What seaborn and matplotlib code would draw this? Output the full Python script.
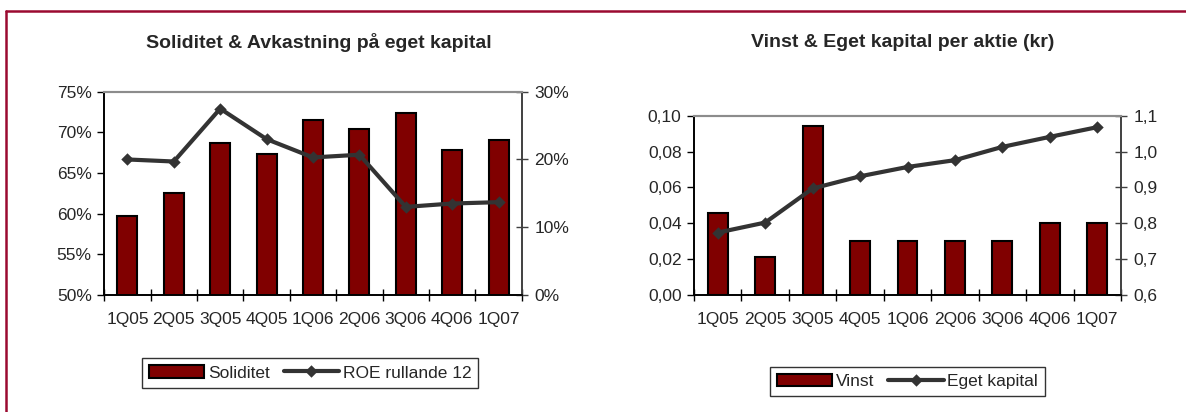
import numpy as np
import pandas as pd
import matplotlib
matplotlib.use("Agg")
import matplotlib.pyplot as plt
from matplotlib.lines import Line2D
from matplotlib.ticker import FuncFormatter, FixedLocator
import seaborn as sns

#data
quarters = ["1Q05", "2Q05", "3Q05", "4Q05", "1Q06", "2Q06", "3Q06", "4Q06", "1Q07"]
soliditet = [59.7, 62.6, 68.7, 67.4, 71.5, 70.4, 72.4, 67.8, 69.0]
roe = [20.0, 19.7, 27.5, 23.0, 20.3, 20.7, 13.0, 13.5, 13.7]
vinst = [0.046, 0.021, 0.094, 0.030, 0.030, 0.030, 0.030, 0.040, 0.040]
eget_kapital = [0.774, 0.802, 0.897, 0.931, 0.957, 0.976, 1.013, 1.041, 1.068]

sns.set_style("white")
plt.rcParams['font.family'] = ['Liberation Sans', 'DejaVu Sans']

bar_color = "#800000"
line_color = "#333333"
fs = 12.5

fig = plt.figure(figsize=(11.86, 4.12), dpi=100)


def combo(rect, bars, line, ylim1, ylim2, yt1, yt2, fmt1, fmt2, width):
    ax = fig.add_axes(rect)
    sns.barplot(x=quarters, y=bars, ax=ax, color=bar_color, saturation=1,
                edgecolor="black", linewidth=1.5, width=width)
    ax2 = ax.twinx()
    sns.pointplot(x=quarters, y=line, ax=ax2, color=line_color, markers="D",
                  linestyles="-", errorbar=None, linewidth=3, markersize=4)
    for a in (ax, ax2):
        a.set_xlim(-0.5, len(quarters) - 0.5)
        a.set_xlabel("")
        a.set_ylabel("")
    ax.set_ylim(*ylim1)
    ax2.set_ylim(*ylim2)
    ax.yaxis.set_major_locator(FixedLocator(yt1))
    ax2.yaxis.set_major_locator(FixedLocator(yt2))
    ax.yaxis.set_major_formatter(FuncFormatter(fmt1))
    ax2.yaxis.set_major_formatter(FuncFormatter(fmt2))

    #labels in the middle, crossing ticks between the quarters
    ax.set_xticks(range(len(quarters)))
    ax.set_xticklabels(quarters)
    ax.set_xticks(np.arange(-0.5, len(quarters)), minor=True)
    ax.tick_params(axis="x", which="major", length=0, pad=12, labelsize=fs)
    ax.tick_params(axis="x", which="minor", direction="inout", length=8, width=1, color="black", bottom=True)
    ax.tick_params(axis="y", direction="out", length=5, width=1, color="black", left=True, labelsize=fs, pad=4)
    ax2.tick_params(axis="y", direction="inout", length=8, width=1, color="#404040", right=True, labelsize=fs, pad=5)
    ax2.tick_params(axis="x", length=0)

    for a in (ax, ax2):
        a.spines["top"].set_color("#8c8c8c")
        a.spines["top"].set_linewidth(1.5)
        a.spines["left"].set_color("black")
        a.spines["bottom"].set_color("black")
        a.spines["left"].set_linewidth(1.2)
        a.spines["bottom"].set_linewidth(1.2)
        a.spines["right"].set_color("#404040")
        a.spines["right"].set_linewidth(1.2)

    handles = [ax.patches[0], ax2.lines[0]]
    return handles


pct = lambda v, p: f"{v:.0f}%"
h1 = combo([0.0879, 0.284, 0.352, 0.4934], soliditet, roe,
           (50, 75), (0, 30), [50, 55, 60, 65, 70, 75], [0, 10, 20, 30], pct, pct, 0.43)

h2 = combo([0.5852, 0.284, 0.360, 0.4352], vinst, eget_kapital,
           (0, 0.10), (0.6, 1.1), [0, 0.02, 0.04, 0.06, 0.08, 0.10], [0.6, 0.7, 0.8, 0.9, 1.0, 1.1],
           lambda v, p: f"{v:.2f}".replace(".", ","),
           lambda v, p: f"{v:.1f}".replace(".", ","), 0.42)

fig.text(0.269, 0.896, "Soliditet & Avkastning på eget kapital", ha="center", va="center",
         fontsize=14, fontweight="bold")
fig.text(0.761, 0.898, "Vinst & Eget kapital per aktie (kr)", ha="center", va="center",
         fontsize=14, fontweight="bold")

leg_kw = dict(ncol=2, frameon=True, fancybox=False, edgecolor="black", fontsize=fs,
              handlelength=3.2, handletextpad=0.2, columnspacing=0.8, borderpad=0.4,
              loc="center")
l1 = fig.legend(h1, ["Soliditet", "ROE rullande 12"], bbox_to_anchor=(0.2614, 0.0947), **leg_kw)
l2 = fig.legend(h2, ["Vinst", "Eget kapital"], bbox_to_anchor=(0.765, 0.074), **leg_kw)
for l in (l1, l2):
    l.get_frame().set_linewidth(1.0)

#dark red frame
frame_color = "#9b0a30"
fig.add_artist(Line2D([6 / 1186, 6 / 1186], [0, 1 - 11 / 412], color=frame_color, lw=1.8))
fig.add_artist(Line2D([6 / 1186, 1], [1 - 11 / 412, 1 - 11 / 412], color=frame_color, lw=1.8))

plt.savefig("out.png", dpi=100)
